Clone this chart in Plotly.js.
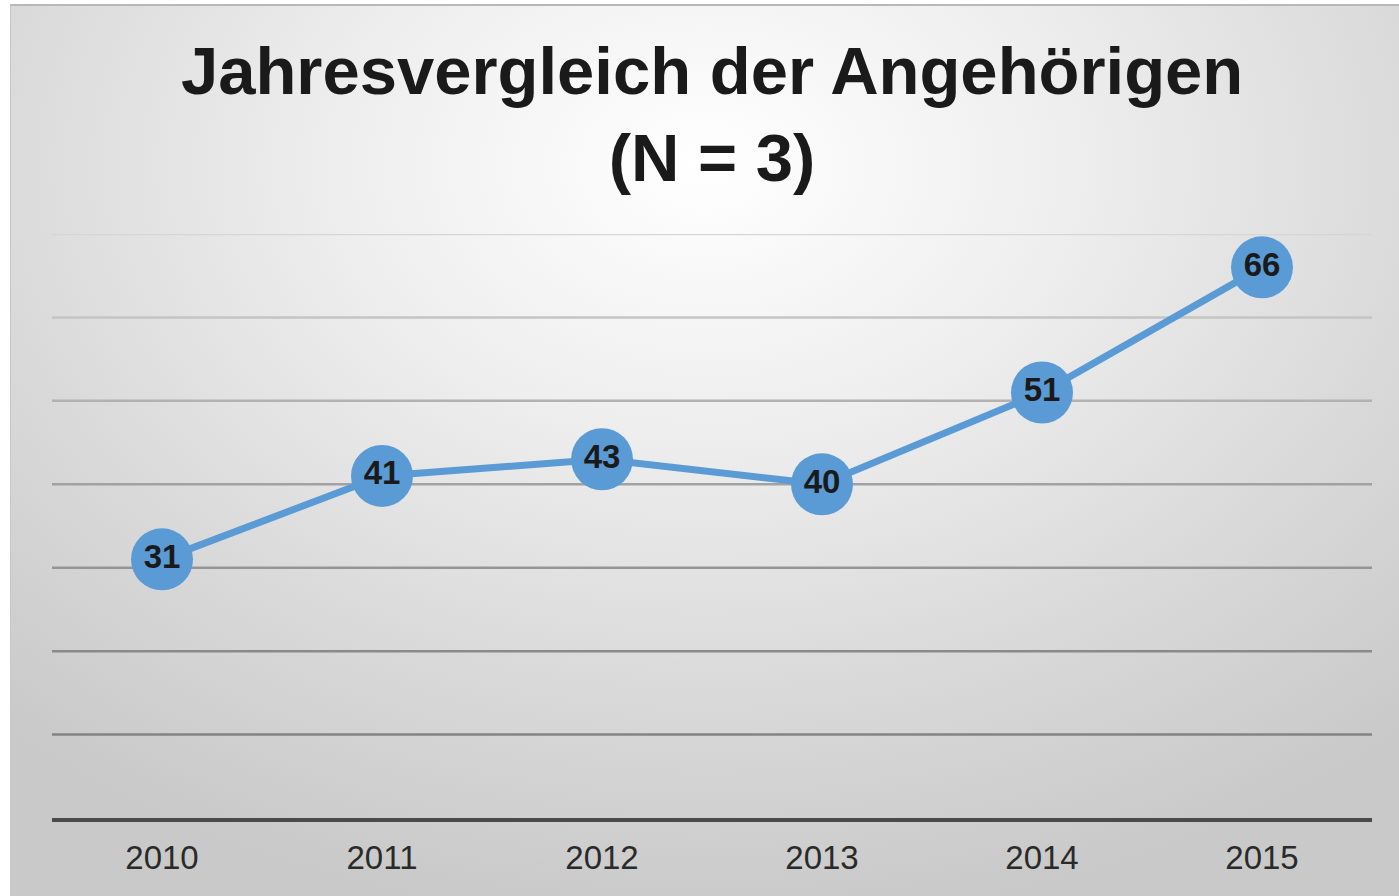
<!DOCTYPE html>
<html>
<head>
<meta charset="utf-8">
<script src="https://cdn.plot.ly/plotly-3.0.1.min.js"></script>
<style>
html,body{margin:0;padding:0;background:#ffffff;width:1399px;height:896px;overflow:hidden;}
#frame{position:absolute;left:10px;top:4px;width:1389px;height:892px;
  border-top:2px solid #b8b8b8;border-left:1px solid #c8c8c8;box-sizing:border-box;
  background:radial-gradient(ellipse 75% 85% at 50% 18%, #ffffff 0%, #eeeeee 35%, #d9d9d9 70%, #c9c9c9 100%);}
#chart{position:absolute;left:0;top:0;width:1399px;height:896px;}
</style>
</head>
<body>
<div id="frame"></div>
<div id="chart"></div>
<script>
const years = ['2010', '2011', '2012', '2013', '2014', '2015'];
const values = [31, 41, 43, 40, 51, 66];
const gridValues = [10, 20, 30, 40, 50, 60, 70];
const gridColors = ['#838383', '#8a8a8a', '#959595', '#a2a2a2', '#b2b2b2', '#c4c4c4', '#d6d6d6'];
const titleText = 'Jahresvergleich der Angehörigen<br>(N = 3)';

const trace = {
  x: years,
  y: values,
  type: 'scatter',
  mode: 'lines+markers+text',
  text: values.map(String),
  textposition: 'middle center',
  textfont: {family: 'Liberation Sans, Arial, sans-serif', size: 33, color: '#1a1a1a', weight: 'bold'},
  line: {color: '#5b9bd5', width: 7},
  marker: {color: '#5b9bd5', size: 62, line: {color: '#5b9bd5', width: 0}},
  cliponaxis: false,
  hoverinfo: 'x+y'
};

const shapes = gridValues.map((v, i) => ({
  type: 'line', xref: 'paper', yref: 'y', x0: 0, x1: 1, y0: v, y1: v,
  line: {color: gridColors[i], width: 2.5}, layer: 'below'
}));

const layout = {
  width: 1399,
  height: 896,
  margin: {l: 52, r: 27, t: 234, b: 78},
  paper_bgcolor: 'rgba(0,0,0,0)',
  plot_bgcolor: 'rgba(0,0,0,0)',
  showlegend: false,
  title: {
    text: titleText,
    font: {family: 'Liberation Sans, Arial, sans-serif', size: 67, color: '#1a1a1a', weight: 'bold'},
    x: 0.509, xanchor: 'center', xref: 'container',
    y: 0.895, yanchor: 'top', yref: 'container'
  },
  xaxis: {
    type: 'category',
    range: [-0.5, 5.5],
    showgrid: false,
    zeroline: false,
    showline: true,
    linecolor: '#4a4a4a',
    linewidth: 4,
    ticks: '',
    tickfont: {family: 'Liberation Sans, Arial, sans-serif', size: 33, color: '#2a2a2a'},
    ticklabelstandoff: 7
  },
  yaxis: {
    range: [0, 70],
    showgrid: false,
    zeroline: false,
    showticklabels: false,
    ticks: '',
    fixedrange: true
  },
  shapes: shapes
};

Plotly.newPlot('chart', [trace], layout, {displayModeBar: false, staticPlot: true});
</script>
</body>
</html>
